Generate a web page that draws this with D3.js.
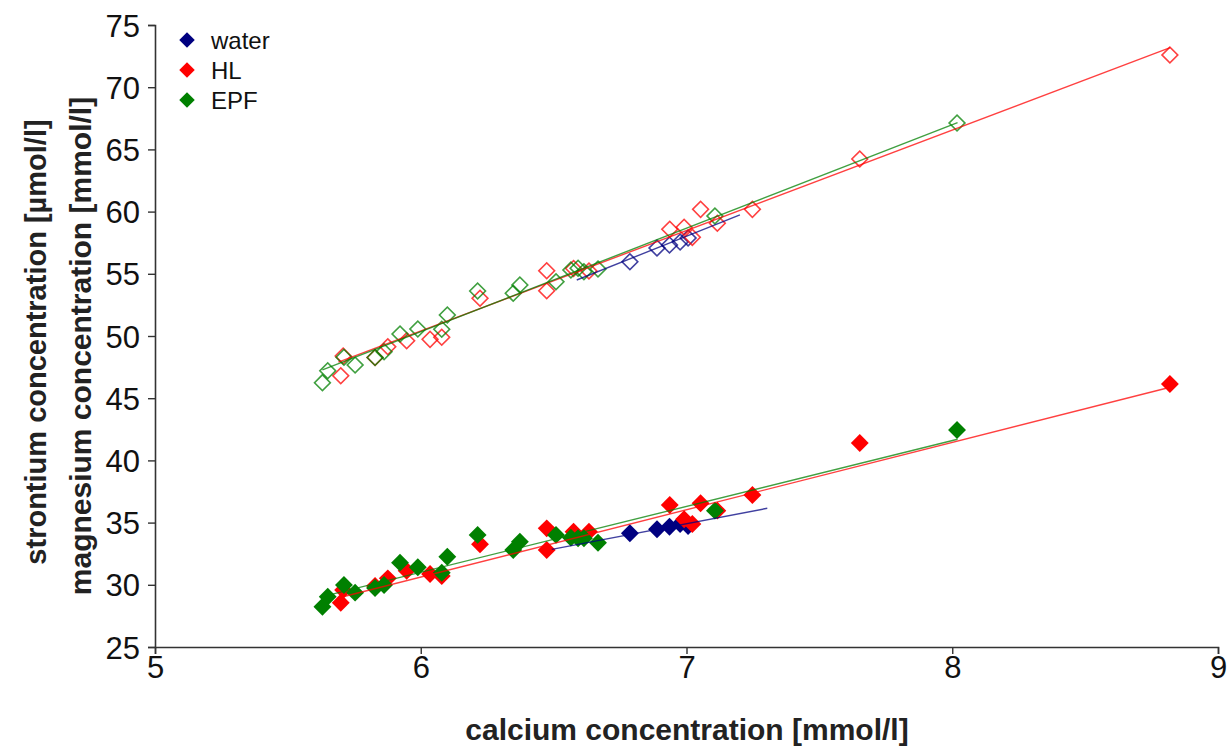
<!DOCTYPE html>
<html><head><meta charset="utf-8">
<script src="https://cdn.jsdelivr.net/npm/d3@7"></script>
<style>
body{margin:0;background:#fff;}
text{font-family:Arial,"Liberation Sans",sans-serif;}
</style></head>
<body><svg id="c" width="1228" height="749"></svg>
<script>
// ---- data ----
const seriesNames = ["water", "HL", "EPF"];
const seriesColors = ["#000080", "#ff0000", "#008000"];

// calcium [mmol/l]
const waterCa = [6.787, 6.889, 6.936, 6.976, 7.006];
const waterSr = [55.97, 57.07, 57.32, 57.56, 57.88];
const waterMg = [34.14, 34.46, 34.67, 34.89, 34.73];

const hlCa = [5.699, 5.708, 5.828, 5.876, 5.947, 6.035, 6.079, 6.223, 6.474, 6.474, 6.575, 6.633, 6.937, 6.991, 7.022, 7.053, 7.116, 7.248, 7.652, 8.819];
const hlSr = [46.81, 48.39, 48.27, 49.14, 49.62, 49.73, 49.90, 53.03, 55.25, 53.64, 55.43, 55.23, 58.58, 58.74, 57.93, 60.18, 59.06, 60.18, 64.23, 72.59];
const hlMg = [28.56, 29.58, 29.90, 30.52, 31.13, 30.87, 30.71, 33.26, 34.54, 32.80, 34.27, 34.27, 36.42, 35.27, 34.89, 36.55, 35.96, 37.22, 41.40, 46.14];

const epfCa = [5.630, 5.650, 5.711, 5.753, 5.828, 5.862, 5.922, 5.989, 6.079, 6.100, 6.214, 6.348, 6.373, 6.509, 6.565, 6.592, 6.614, 6.667, 7.107, 8.018];
const epfSr = [46.25, 47.21, 48.29, 47.67, 48.27, 48.74, 50.16, 50.56, 50.54, 51.69, 53.62, 53.43, 54.10, 54.36, 55.31, 55.44, 55.17, 55.39, 59.65, 67.12];
const epfMg = [28.24, 29.04, 29.98, 29.37, 29.74, 29.98, 31.78, 31.41, 30.97, 32.26, 34.01, 32.80, 33.46, 34.01, 33.79, 33.74, 33.74, 33.38, 35.96, 42.44];

// linear trend lines: [x0, y0, x1, y1]
const trendSr = [[6.587, 54.50, 7.201, 59.73], [5.69, 47.90, 8.82, 73.18], [5.63, 47.27, 8.02, 67.15]];
const trendMg = [[6.493, 32.85, 7.304, 36.15], [5.70, 29.00, 8.82, 45.88], [5.63, 29.05, 8.02, 41.70]];

const xTicks = [5, 6, 7, 8, 9];
const yTicks = [25, 30, 35, 40, 45, 50, 55, 60, 65, 70, 75];

// ---- chart ----
const svg = d3.select("#c");
const L = 155, R = 1218, T = 25, B = 647;
const x = d3.scaleLinear().domain([5, 9]).range([L, R]);
const y = d3.scaleLinear().domain([25, 75]).range([B, T]);

const xAxis = svg.append("g").attr("transform", `translate(0,${B})`)
  .call(d3.axisBottom(x).tickValues(xTicks).tickSize(7).tickPadding(2).tickFormat(d3.format("d")));
const yAxis = svg.append("g").attr("transform", `translate(${L},0)`)
  .call(d3.axisLeft(y).tickValues(yTicks).tickSize(7).tickPadding(8).tickFormat(d3.format("d")));
[xAxis, yAxis].forEach(a => {
  a.select(".domain").attr("stroke", "#333").attr("stroke-width", 1.6);
  a.selectAll(".tick line").attr("stroke", "#333").attr("stroke-width", 1.4);
  a.selectAll(".tick text").attr("font-size", 31).attr("fill", "#111")
    .attr("font-family", "Arial, 'Liberation Sans', sans-serif");
});
xAxis.selectAll(".tick text").attr("dy", "0.72em");
yAxis.selectAll(".tick text").attr("dy", "0.36em");

svg.append("text").attr("x", 687).attr("y", 740).attr("text-anchor", "middle")
  .attr("font-size", 30).attr("font-weight", "bold").attr("fill", "#222")
  .text("calcium concentration [mmol/l]");
svg.append("text").attr("transform", "translate(46,342) rotate(-90)").attr("text-anchor", "middle")
  .attr("font-size", 29).attr("font-weight", "bold").attr("fill", "#222")
  .text("strontium concentration [µmol/l]");
svg.append("text").attr("transform", "translate(91,346) rotate(-90)").attr("text-anchor", "middle")
  .attr("font-size", 30).attr("font-weight", "bold").attr("fill", "#222")
  .text("magnesium concentration [mmol/l]");

const diamondOpen = d3.symbol().type(d3.symbolSquare).size(125);
const diamondFull = d3.symbol().type(d3.symbolSquare).size(160);

const groups = [
  {ca: waterCa, sr: waterSr, mg: waterMg},
  {ca: hlCa, sr: hlSr, mg: hlMg},
  {ca: epfCa, sr: epfSr, mg: epfMg}
];

groups.forEach((g, i) => {
  const col = seriesColors[i];
  const srPts = g.ca.map((c, k) => [c, g.sr[k]]);
  const mgPts = g.ca.map((c, k) => [c, g.mg[k]]);
  svg.append("g").selectAll("path").data(srPts).join("path")
    .attr("d", diamondOpen)
    .attr("transform", d => `translate(${x(d[0])},${y(d[1])}) rotate(45)`)
    .attr("fill", "none").attr("stroke", col).attr("stroke-width", 1.6).attr("stroke-opacity", 0.75);
  svg.append("g").selectAll("path").data(mgPts).join("path")
    .attr("d", diamondFull)
    .attr("transform", d => `translate(${x(d[0])},${y(d[1])}) rotate(45)`)
    .attr("fill", col);
});

[trendSr, trendMg].forEach(tr => {
  tr.forEach((t, i) => {
    svg.append("line")
      .attr("x1", x(t[0])).attr("y1", y(t[1])).attr("x2", x(t[2])).attr("y2", y(t[3]))
      .attr("stroke", seriesColors[i]).attr("stroke-width", 1.4).attr("stroke-opacity", 0.75);
  });
});

// legend
const leg = svg.append("g");
seriesNames.forEach((n, i) => {
  const ly = 40 + i * 30;
  leg.append("path").attr("d", d3.symbol().type(d3.symbolSquare).size(120))
    .attr("transform", `translate(187,${ly}) rotate(45)`).attr("fill", seriesColors[i]);
  leg.append("text").attr("x", 211).attr("y", ly).attr("dy", "0.36em")
    .attr("font-size", 24).attr("fill", "#111").text(n);
});
</script></body></html>
